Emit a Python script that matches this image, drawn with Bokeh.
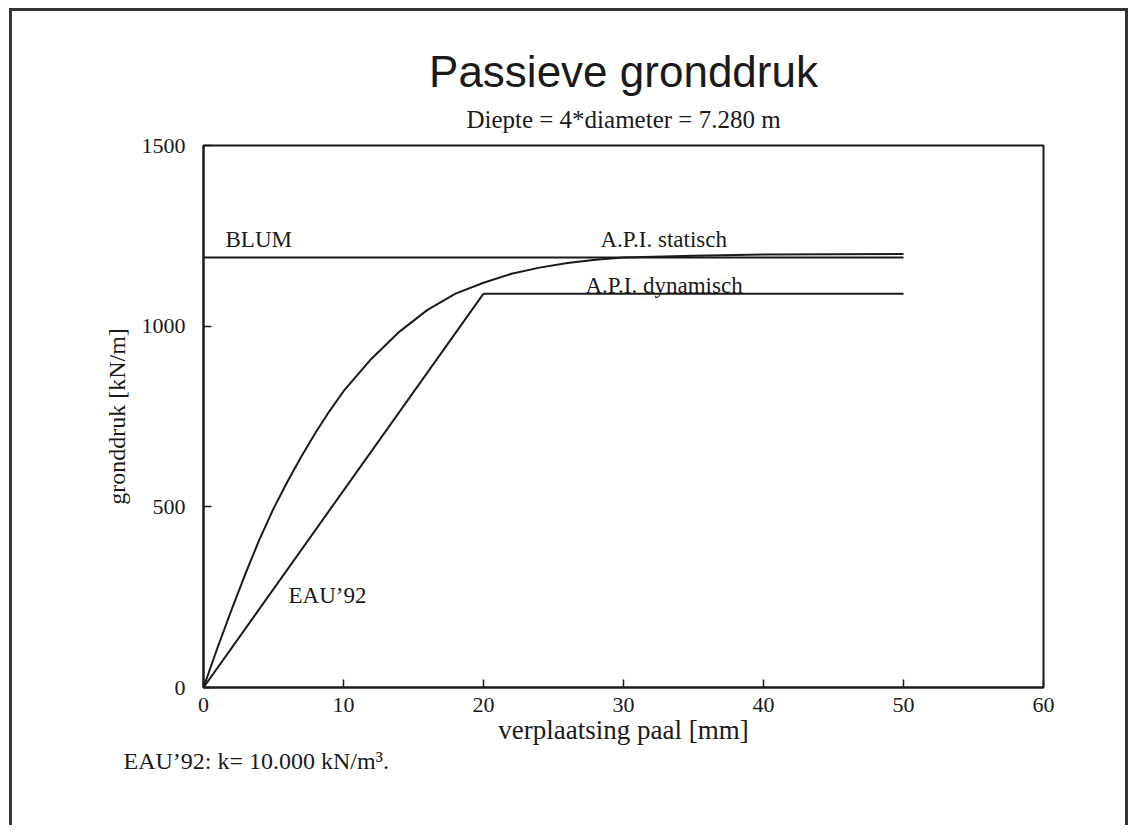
from bokeh.plotting import figure
from bokeh.models import Range1d, Label, Title, FixedTicker
from bokeh.embed import file_html
from bokeh.resources import INLINE

# ---- data ----
x_ticks = [0, 10, 20, 30, 40, 50, 60]
y_ticks = [0, 500, 1000, 1500]

blum_x = [0, 50]
blum_y = [1190, 1190]

api_stat_x = [0, 1, 2, 3, 4, 5, 6, 7, 8, 9, 10, 12, 14, 16, 18, 20, 22, 24, 26, 28, 30, 35, 40, 45, 50]
api_stat_y = [0, 110, 215, 315, 410, 495, 570, 640, 705, 765, 820, 910, 985, 1045, 1090, 1120,
              1145, 1162, 1175, 1184, 1190, 1195, 1198, 1199, 1200]

eau_x = [0, 20]
eau_y = [0, 1090]

api_dyn_x = [20, 50]
api_dyn_y = [1090, 1090]

# ---- layout ----
W, H = 1129, 825
FL, FR, FT, FB = 203, 1043, 145, 687   # frame edges in canvas px
XMAX, YMAX = 60, 1500

SERIF = "Liberation Serif"
SANS = "Liberation Sans"
INK = "#1a1a1a"
BOX = "#333333"

frame_css = (
    f"linear-gradient({BOX},{BOX}) 9px 8px / 3px 100% no-repeat, "
    f"linear-gradient({BOX},{BOX}) 9px 8px / {W - 12}px 3px no-repeat, "
    f"linear-gradient({BOX},{BOX}) {W - 4}px 8px / 3px 100% no-repeat, white"
)

p = figure(width=W, height=H, output_backend="svg", toolbar_location=None, title=None,
           x_range=Range1d(0, XMAX), y_range=Range1d(0, YMAX),
           min_border_left=FL, min_border_right=W - FR,
           min_border_top=FT, min_border_bottom=H - FB)
p.styles = {"background": frame_css}
p.xgrid.visible = False
p.ygrid.visible = False
p.outline_line_color = INK
p.outline_line_width = 2
p.background_fill_color = "white"
p.border_fill_color = None

for ax in (p.xaxis[0], p.yaxis[0]):
    ax.axis_line_color = INK
    ax.axis_line_width = 2
    ax.major_tick_line_color = INK
    ax.major_tick_line_width = 1.5
    ax.major_tick_in = 8
    ax.major_tick_out = 0
    ax.minor_tick_line_color = None
    ax.major_label_text_font = SERIF
    ax.major_label_text_font_size = "22px"
    ax.major_label_text_color = INK
    ax.axis_label_text_font = SERIF
    ax.axis_label_text_font_style = "normal"
    ax.axis_label_text_color = INK

p.xaxis.ticker = FixedTicker(ticks=x_ticks)
p.yaxis.ticker = FixedTicker(ticks=y_ticks)
p.xaxis.axis_label = "verplaatsing paal [mm]"
p.yaxis.axis_label = "gronddruk [kN/m]"
p.xaxis.axis_label_text_font_size = "27px"
p.yaxis.axis_label_text_font_size = "24px"
p.xaxis.major_label_standoff = 10
p.xaxis.axis_label_standoff = 0
p.yaxis.major_label_standoff = 18
p.yaxis.axis_label_standoff = 9

lw = 2
p.line(blum_x, blum_y, line_color=INK, line_width=lw)
p.line(api_stat_x, api_stat_y, line_color=INK, line_width=lw)
p.line(eau_x, eau_y, line_color=INK, line_width=lw)
p.line(api_dyn_x, api_dyn_y, line_color=INK, line_width=lw)

# titles (stacked outward from the frame in the order added)
p.add_layout(Title(text="Diepte = 4*diameter = 7.280 m", align="center", vertical_align="top",
                   standoff=21, text_font=SERIF, text_font_size="25px",
                   text_font_style="normal", text_color=INK), "above")
p.add_layout(Title(text="Passieve gronddruk", align="center", vertical_align="bottom",
                   standoff=0, text_font=SANS, text_font_size="44px",
                   text_font_style="normal", text_color=INK), "above")
p.add_layout(Title(text="EAU\u201992: k= 10.000 kN/m\u00b3.", align="left", vertical_align="top",
                   offset=123 - FL, standoff=0, text_font=SERIF, text_font_size="24px",
                   text_font_style="normal", text_color=INK), "below")

def xd(px):
    return (px - FL) / (FR - FL) * XMAX

def yd(py):
    return (FB - py) / (FB - FT) * YMAX

def lab_data(px, py, text, size="23px"):
    p.add_layout(Label(x=xd(px), y=yd(py), text=text, text_font=SERIF,
                       text_font_size=size, text_align="left",
                       text_baseline="alphabetic", text_color=INK))

lab_data(225, 239, "BLUM")
lab_data(600, 239, "A.P.I. statisch")
lab_data(585, 285, "A.P.I. dynamisch")
lab_data(288, 595, "EAU\u201992")

open("out.html", "w").write(file_html(p, INLINE))
